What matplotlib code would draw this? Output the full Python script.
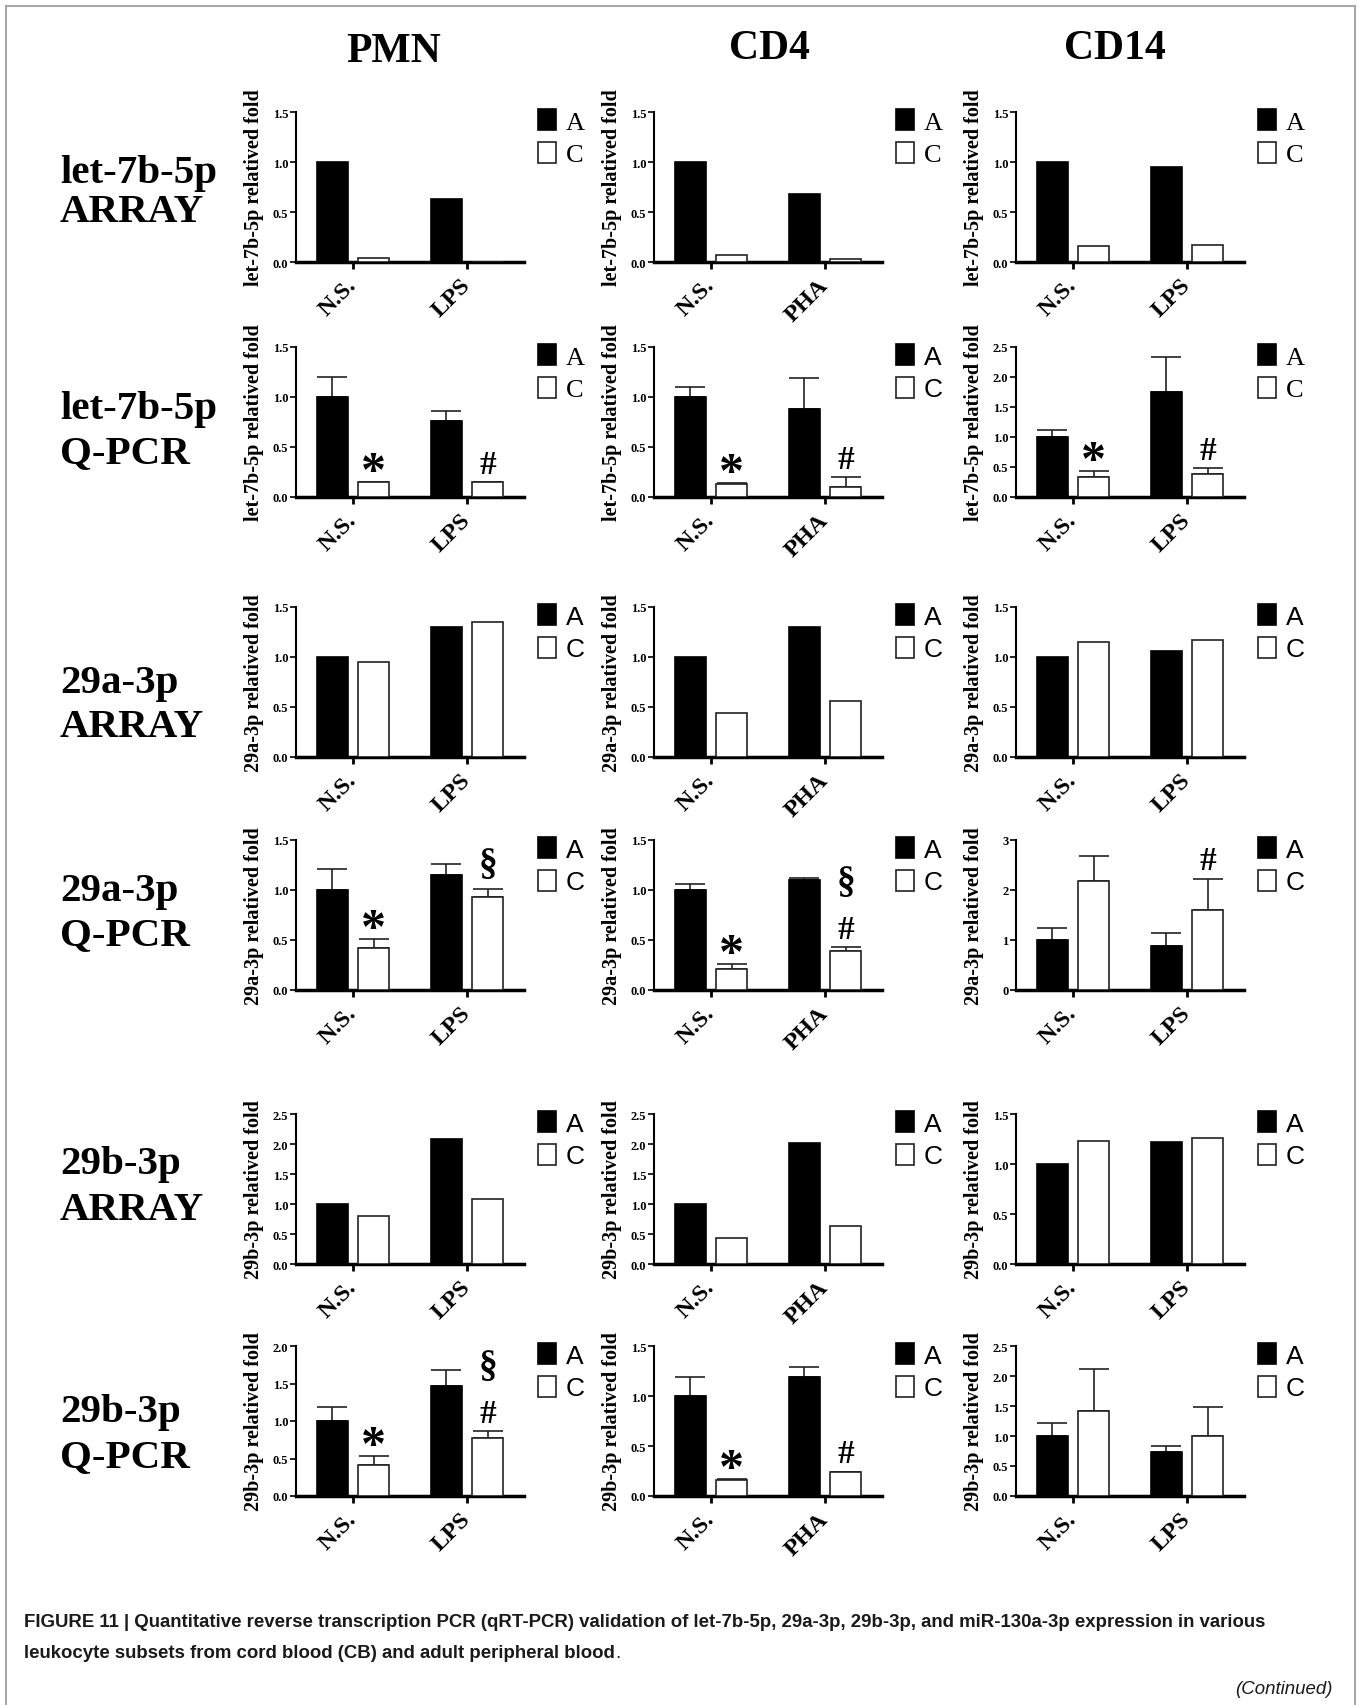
import numpy as np
import matplotlib
matplotlib.use("Agg")
import matplotlib.pyplot as plt
from matplotlib.patches import Patch
from matplotlib.lines import Line2D

W, H = 1359, 1706
SERIF = ["Liberation Serif", "DejaVu Serif"]
SANS = ["Liberation Sans", "DejaVu Sans"]

# ---- data ----
columns = ["PMN", "CD4", "CD14"]
groups = [["N.S.", "LPS"], ["N.S.", "PHA"], ["N.S.", "LPS"]]
row_titles = [("let-7b-5p", "ARRAY"), ("let-7b-5p", "Q-PCR"),
              ("29a-3p", "ARRAY"), ("29a-3p", "Q-PCR"),
              ("29b-3p", "ARRAY"), ("29b-3p", "Q-PCR")]
ylabels = ["let-7b-5p relatived fold", "let-7b-5p relatived fold",
           "29a-3p relatived fold", "29a-3p relatived fold",
           "29b-3p relatived fold", "29b-3p relatived fold"]

# each row: [PMN, CD4, CD14], each cell: [N.S., stim]
a_vals = [
    [[1.0, 0.63], [1.0, 0.68], [1.0, 0.95]],
    [[1.0, 0.76], [1.0, 0.88], [1.0, 1.75]],
    [[1.0, 1.30], [1.0, 1.30], [1.0, 1.06]],
    [[1.0, 1.15], [1.0, 1.10], [1.0, 0.88]],
    [[1.0, 2.08], [1.0, 2.02], [1.0, 1.22]],
    [[1.0, 1.47], [1.0, 1.19], [1.0, 0.73]],
]
c_vals = [
    [[0.04, 0.005], [0.07, 0.03], [0.16, 0.17]],
    [[0.155, 0.155], [0.13, 0.10], [0.33, 0.39]],
    [[0.95, 1.35], [0.445, 0.56], [1.15, 1.17]],
    [[0.42, 0.93], [0.215, 0.39], [2.19, 1.60]],
    [[0.80, 1.08], [0.43, 0.64], [1.23, 1.26]],
    [[0.42, 0.77], [0.16, 0.24], [1.41, 1.00]],
]
a_errs = [
    None,
    [[0.20, 0.10], [0.10, 0.31], [0.11, 0.59]],
    None,
    [[0.21, 0.11], [0.06, 0.02], [0.25, 0.26]],
    None,
    [[0.19, 0.21], [0.19, 0.10], [0.21, 0.10]],
]
c_errs = [
    None,
    [[0.0, 0.0], [0.01, 0.10], [0.10, 0.10]],
    None,
    [[0.09, 0.08], [0.045, 0.04], [0.50, 0.63]],
    None,
    [[0.11, 0.10], [0.01, 0.005], [0.71, 0.49]],
]
ymaxs = [[1.5, 1.5, 1.5], [1.5, 1.5, 2.5], [1.5, 1.5, 1.5],
         [1.5, 1.5, 3.0], [2.5, 2.5, 1.5], [2.0, 1.5, 2.5]]
ysteps = [[0.5, 0.5, 0.5], [0.5, 0.5, 0.5], [0.5, 0.5, 0.5],
          [0.5, 0.5, 1.0], [0.5, 0.5, 0.5], [0.5, 0.5, 0.5]]
# significance marks above the C bars
marks = [
    None,
    [["*", "#"], ["*", "#"], ["*", "#"]],
    None,
    [["*", "§"], ["*", "#§"], ["", "#"]],
    None,
    [["*", "#§"], ["*", "#"], ["", ""]],
]
legend_serif = [[True, True, True], [True, False, True], [False, False, False],
                [False, False, False], [False, False, False], [False, False, False]]

# ---- layout (pixels) ----
col_left = [296, 654, 1016]
row_top = [113, 348, 608, 841, 1115, 1347]
ax_w, ax_h = 228, 150
title_base = [(174, 212), (410, 454), (683, 728), (892, 936), (1165, 1211), (1413, 1458)]

fig = plt.figure(figsize=(W / 100, H / 100), dpi=100)
fig.patch.set_facecolor("white")

# frame
fc = "#a8a8a8"
fig.add_artist(Line2D([6 / W, 1355 / W], [1 - 7 / H, 1 - 7 / H], transform=fig.transFigure, color=fc, lw=1.5))
fig.add_artist(Line2D([6 / W, 6 / W], [1 - 7 / H, 0], transform=fig.transFigure, color=fc, lw=1.5))
fig.add_artist(Line2D([1355 / W, 1355 / W], [1 - 7 / H, 0], transform=fig.transFigure, color=fc, lw=1.5))

header_x = [394, 769, 1115]
header_y = [52, 49, 49]
for name, hx, hy in zip(columns, header_x, header_y):
    fig.text(hx / W, 1 - hy / H, name, ha="center", va="center",
             family=SERIF, weight="bold", fontsize=30)

for r, (t1, t2) in enumerate(row_titles):
    y1, y2 = title_base[r]
    fig.text(60 / W, 1 - y1 / H, t1, ha="left", va="center", family=SERIF, weight="bold", fontsize=29.5)
    fig.text(60 / W, 1 - y2 / H, t2, ha="left", va="center", family=SERIF, weight="bold", fontsize=29.5)

x = np.arange(2)
bw = 0.28
off = 0.18
px2pt = 0.72

for r in range(6):
    for c in range(3):
        ax = fig.add_axes([col_left[c] / W, 1 - (row_top[r] + ax_h) / H, ax_w / W, ax_h / H])
        av = np.array(a_vals[r][c])
        cv = np.array(c_vals[r][c])
        ax.bar(x - off, av, bw, color="black", edgecolor="black", lw=1.2, zorder=3)
        ax.bar(x + off, cv, bw, color="white", edgecolor="#222222", lw=1.2, zorder=3)
        tops = cv.copy()
        if a_errs[r] is not None:
            ae = np.array(a_errs[r][c])
            ce = np.array(c_errs[r][c])
            ax.errorbar(x - off, av, yerr=[np.zeros(2), ae], fmt="none", ecolor="#222222",
                        elinewidth=1.2, capsize=11, capthick=1.2, zorder=2)
            ax.errorbar(x + off, cv, yerr=[np.zeros(2), ce], fmt="none", ecolor="#222222",
                        elinewidth=1.2, capsize=11, capthick=1.2, zorder=2)
            tops = cv + ce
        if marks[r] is not None:
            for g in range(2):
                lift = 0
                for sym in marks[r][c][g]:
                    if sym == "*":
                        fs, dy = 36, -3
                    elif sym == "#":
                        fs, dy = 24, 9
                    else:
                        fs, dy = 27, 16
                    ax.annotate(sym, (x[g] + off, tops[g]), xytext=(0, (dy + lift) * px2pt),
                                textcoords="offset points", ha="center", va="baseline",
                                family=SERIF, weight="bold", fontsize=fs,
                                annotation_clip=False)
                    lift += 40

        ymax = ymaxs[r][c]
        step = ysteps[r][c]
        ax.set_ylim(0, ymax)
        ax.set_xlim(-0.5, 1.5)
        yt = np.arange(0, ymax + step / 2, step)
        ax.set_yticks(yt)
        if step >= 1:
            ax.set_yticklabels([f"{v:.0f}" for v in yt])
        else:
            ax.set_yticklabels([f"{v:.1f}" for v in yt])
        ax.set_xticks(x)
        ax.set_xticklabels(groups[c])
        for lab in ax.get_yticklabels():
            lab.set_family(SERIF)
            lab.set_weight("bold")
            lab.set_fontsize(9)
        for lab in ax.get_xticklabels():
            lab.set_family(SERIF)
            lab.set_weight("bold")
            lab.set_fontsize(17.5)
            lab.set_rotation(45)
            lab.set_ha("right")
            lab.set_va("center")
            lab.set_rotation_mode("anchor")
        ax.tick_params(axis="y", direction="out", length=4, width=1.2, pad=1.5)
        ax.tick_params(axis="x", direction="out", length=5, width=2, pad=9)
        for s in ["top", "right"]:
            ax.spines[s].set_visible(False)
        ax.spines["left"].set_linewidth(1.5)
        ax.spines["bottom"].set_linewidth(2.5)
        ax.set_ylabel(ylabels[r], family=SERIF, weight="bold", fontsize=14.5)
        ax.yaxis.set_label_coords(-0.14, 0.5)

        lf = SERIF if legend_serif[r][c] else SANS
        handles = [Patch(facecolor="black", edgecolor="black", lw=1.2),
                   Patch(facecolor="white", edgecolor="#222222", lw=1.2)]
        ax.legend(handles, ["A", "C"], loc="upper left", bbox_to_anchor=(1 + 14 / ax_w, 1.02),
                  frameon=False, borderpad=0, borderaxespad=0, handlelength=0.7,
                  handleheight=0.85, handletextpad=0.35, labelspacing=0.3,
                  prop={"family": lf, "size": 19})

# ---- caption ----
cap_fam = ["Liberation Sans Narrow", "Liberation Sans"]
line1 = ("FIGURE 11 | Quantitative reverse transcription PCR (qRT-PCR) validation of let-7b-5p, "
         "29a-3p, 29b-3p, and miR-130a-3p expression in various")
line2 = "leukocyte subsets from cord blood (CB) and adult peripheral blood"
c1 = fig.text(24 / W, 1 - 1623 / H, line1, ha="left", va="center", family=cap_fam,
              weight="bold", fontsize=14, color="#1a1a1a")
fig.canvas.draw()
bb = c1.get_window_extent()
fs = 14 * 1247 / bb.width
c1.set_fontsize(fs)
c2 = fig.text(24 / W, 1 - 1654 / H, line2, ha="left", va="center", family=cap_fam,
              weight="bold", fontsize=fs, color="#1a1a1a")
fig.canvas.draw()
bb2 = c2.get_window_extent()
fig.text(bb2.x1 / W, 1 - 1654 / H, ".", ha="left", va="center", family=cap_fam,
         fontsize=fs, color="#1a1a1a")
fig.text(1333 / W, 1 - 1690 / H, "(Continued)", ha="right", va="center", family=cap_fam,
         style="italic", fontsize=fs, color="#1a1a1a")

fig.savefig("out.png", dpi=100, facecolor="white")
